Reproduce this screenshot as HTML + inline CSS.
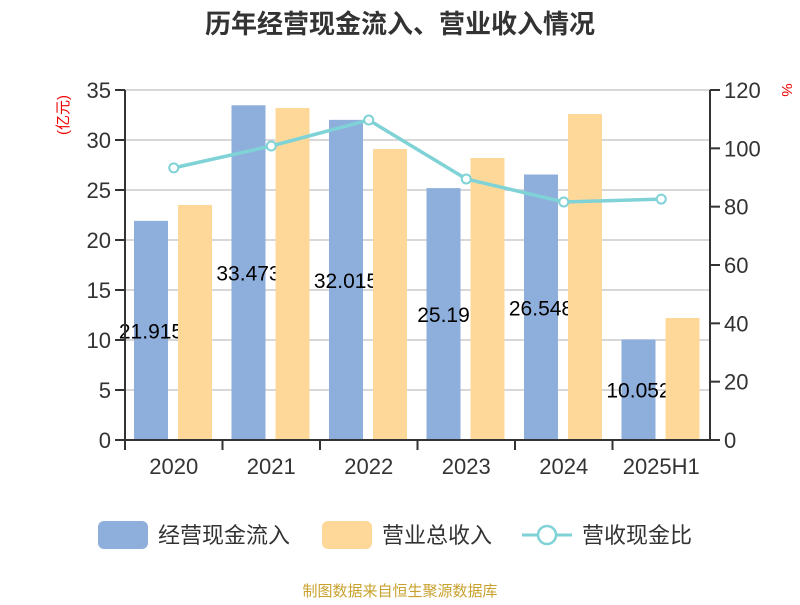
<!DOCTYPE html>
<html><head><meta charset="utf-8"><style>
body{margin:0;background:#fff;}
svg text{font-family:"Liberation Sans","Noto Sans CJK SC",sans-serif;}
</style></head><body>
<svg id="c" width="800" height="600" xmlns="http://www.w3.org/2000/svg">
<text x="400" y="33" text-anchor="middle" font-size="26" font-weight="bold" fill="#333">历年经营现金流入、营业收入情况</text>
<text x="0" y="0" transform="translate(68,115) rotate(-90)" text-anchor="middle" font-size="15" fill="#e00">(亿元)</text>
<text x="0" y="0" transform="translate(782,90) rotate(90)" text-anchor="middle" font-size="15" fill="#e00">%</text>
<g id="grid"></g><g id="blue"></g><g id="lbl"></g><g id="orange"></g><g id="axes"></g><g id="line"></g>
<g>
<rect x="98" y="521" width="50" height="28" rx="6" fill="#8eaedb"/>
<text x="158" y="543" font-size="22" fill="#333">经营现金流入</text>
<rect x="322" y="521" width="50" height="28" rx="6" fill="#fed899"/>
<text x="382" y="543" font-size="22" fill="#333">营业总收入</text>
<line x1="522" y1="535" x2="572" y2="535" stroke="#7fd2d6" stroke-width="3"/>
<circle cx="547" cy="535" r="9" fill="#fff" stroke="#7fd2d6" stroke-width="2.5"/>
<text x="582" y="543" font-size="22" fill="#333">营收现金比</text>
</g>
<text x="400" y="596" text-anchor="middle" font-size="15" fill="#c9a12e">制图数据来自恒生聚源数据库</text>
</svg>
<script>
const categories=["2020","2021","2022","2023","2024","2025H1"];
const cashInflow=[21.915,33.473,32.015,25.19,26.548,10.052];
const cashLabels=["21.915","33.473","32.015","25.19","26.548","10.052"];
const revenue=[23.5,33.2,29.1,28.2,32.6,12.2];
const ratio=[93.3,100.8,109.7,89.5,81.6,82.6];
const leftTicks=[0,5,10,15,20,25,30,35];
const rightTicks=[0,20,40,60,80,100,120];
const NS="http://www.w3.org/2000/svg";
const X0=125,X1=710,Y0=440,Y1=90;
const bw=(X1-X0)/categories.length;
const yL=v=>Y0-(v/35)*(Y0-Y1);
const yR=v=>Y0-(v/120)*(Y0-Y1);
const xC=i=>X0+bw*i;
function mk(t,a,p){const e=document.createElementNS(NS,t);for(const k in a)e.setAttribute(k,a[k]);document.getElementById(p).appendChild(e);return e;}
leftTicks.forEach(v=>{
 const g=mk("line",{x1:X0,x2:X1,y1:yL(v),y2:yL(v),stroke:"#ccc","stroke-width":1.5},"grid");
 
 
 const t=mk("line",{x1:X0-10,x2:X0,y1:yL(v),y2:yL(v),stroke:"#333","stroke-width":2},"axes");
 
 
 const l=mk("text",{x:X0-14,y:yL(v)+8,"text-anchor":"end","font-size":22,fill:"#333"},"axes");
 l.textContent=v;
 
 
});
rightTicks.forEach(v=>{
 const t=mk("line",{x1:X1,x2:X1+10,y1:yR(v),y2:yR(v),stroke:"#333","stroke-width":2},"axes");
 
 
 const l=mk("text",{x:X1+14,y:yR(v)+8,"font-size":22,fill:"#333"},"axes");
 l.textContent=v;
 
 
});
[[X0,Y1,X0,Y0],[X1,Y1,X1,Y0],[X0,Y0,X1,Y0]].forEach(c=>{
 const a=mk("line",{x1:c[0],y1:c[1],x2:c[2],y2:c[3],stroke:"#333","stroke-width":2},"axes");
 
 
});
categories.forEach((c,i)=>{
 const t=mk("line",{x1:xC(i),x2:xC(i),y1:Y0,y2:Y0+10,stroke:"#333","stroke-width":2},"axes");
 
 
 const l=mk("text",{x:xC(i)+bw/2,y:Y0+34,"text-anchor":"middle","font-size":22,fill:"#333"},"axes");
 l.textContent=c;
 
 
 const b=mk("rect",{x:xC(i)+9,y:yL(cashInflow[i]),width:34,height:Y0-yL(cashInflow[i]),fill:"#8eaedb"},"blue");
 
 
 const bl=mk("text",{x:xC(i)+26,y:(yL(cashInflow[i])+Y0)/2+8,"text-anchor":"middle","font-size":21,fill:"#000"},"lbl");
 bl.textContent=cashLabels[i];
 
 
 const o=mk("rect",{x:xC(i)+53,y:yL(revenue[i]),width:34,height:Y0-yL(revenue[i]),fill:"#fed899"},"orange");
 
 
});
const pts=ratio.map((v,i)=>(xC(i)+bw/2)+","+yR(v)).join(" ");
const pl=mk("polyline",{points:pts,fill:"none",stroke:"#7fd2d6","stroke-width":3.5},"line");


ratio.forEach((v,i)=>{
 const p=mk("circle",{cx:xC(i)+bw/2,cy:yR(v),r:4.5,fill:"#fff",stroke:"#7fd2d6","stroke-width":2},"line");
 
 
});
</script>
</body></html>
